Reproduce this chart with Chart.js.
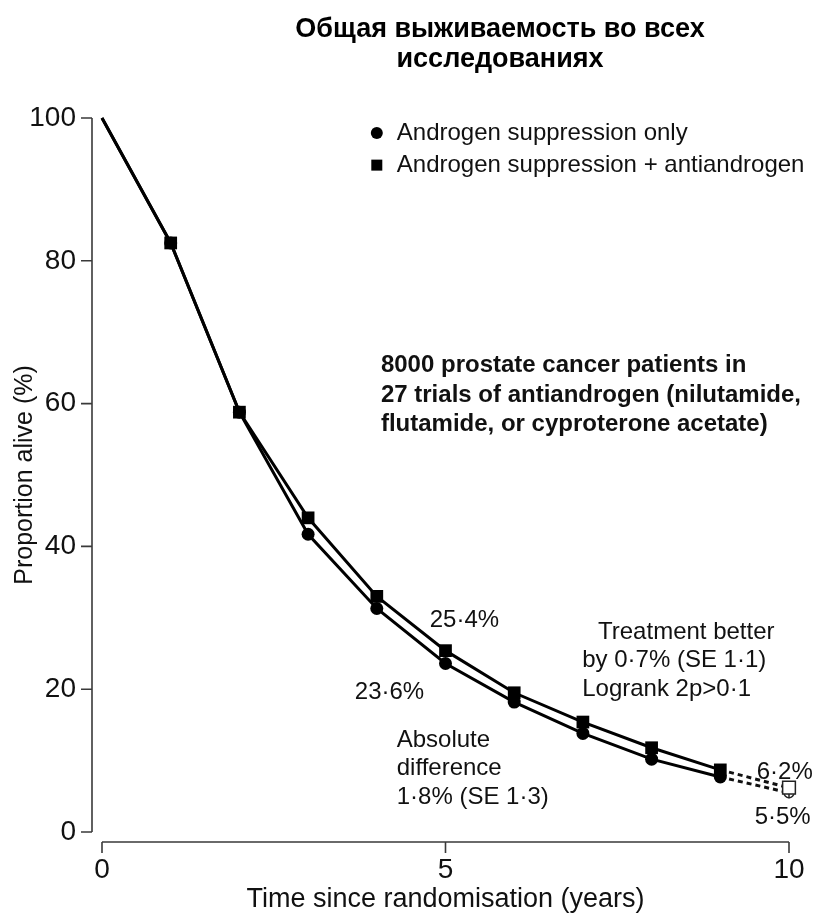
<!DOCTYPE html>
<html><head><meta charset="utf-8">
<script src="https://cdn.jsdelivr.net/npm/chart.js@4.4.1/dist/chart.umd.min.js"></script>
<style>html,body{margin:0;padding:0;background:#fff;}#wrap{width:815px;height:917px;}</style>
</head><body><div id="wrap"><canvas id="c" width="815" height="917"></canvas></div>
<script>
// ---- data ----
const titleLines = ['Общая выживаемость во всех', 'исследованиях'];
const years = [0, 1, 2, 3, 4, 5, 6, 7, 8, 9];
const suppressionOnly = [100, 82.5, 58.8, 41.7, 31.3, 23.6, 18.2, 13.8, 10.2, 7.7];
const suppressionPlusAnti = [100, 82.5, 58.8, 44.0, 33.0, 25.4, 19.5, 15.4, 11.8, 8.7];
const extYears = [9, 10];
const extOnly = [7.7, 5.5];
const extPlus = [8.7, 6.2];
const xTicks = [0, 5, 10];
const yTicks = [0, 20, 40, 60, 80, 100];
const seriesNames = ['Androgen suppression only', 'Androgen suppression + antiandrogen'];
const xTitle = 'Time since randomisation (years)';
const yTitle = 'Proportion alive (%)';
const noteBold = ['8000 prostate cancer patients in', '27 trials of antiandrogen (nilutamide,', 'flutamide, or cyproterone acetate)'];
const noteAbove = ['25·4%'];
const noteBelow = ['23·6%'];
const noteAbsolute = ['Absolute', 'difference', '1·8% (SE 1·3)'];
const noteTreatmentHead = ['Treatment better'];
const noteTreatment = ['by 0·7% (SE 1·1)', 'Logrank 2p>0·1'];
const noteEndPlus = ['6·2%'];
const noteEndOnly = ['5·5%'];

// ---- styles ----
const FONT = "'Liberation Sans', Arial, sans-serif";
const TXT = '#111';
const AXIS = '#3a3a3a';

const toXY = (xs, ys) => xs.map((x, i) => ({x: x, y: ys[i]}));

const titlePlugin = {
  id: 'topTitle',
  afterDraw(chart) {
    const ctx = chart.ctx;
    ctx.save();
    ctx.font = 'bold 27px ' + FONT;
    ctx.fillStyle = '#000';
    ctx.textAlign = 'center';
    ctx.textBaseline = 'middle';
    titleLines.forEach((t, i) => ctx.fillText(t, 500, 30 + i * 30));
    ctx.restore();
  }
};

const axesPlugin = {
  id: 'offsetAxes',
  beforeDatasetsDraw(chart) {
    const {ctx, chartArea: a, scales: {x, y}} = chart;
    ctx.save();
    ctx.strokeStyle = AXIS;
    ctx.lineWidth = 1.6;
    const ax = a.left - 10;
    ctx.beginPath();
    ctx.moveTo(ax, y.getPixelForValue(100));
    ctx.lineTo(ax, y.getPixelForValue(0));
    yTicks.forEach(v => { const py = y.getPixelForValue(v); ctx.moveTo(ax - 11, py); ctx.lineTo(ax, py); });
    const ay = a.bottom + 10;
    ctx.moveTo(x.getPixelForValue(0), ay);
    ctx.lineTo(x.getPixelForValue(10), ay);
    xTicks.forEach(v => { const px = x.getPixelForValue(v); ctx.moveTo(px, ay); ctx.lineTo(px, ay + 11); });
    ctx.stroke();
    ctx.restore();
  }
};

// annotation positions in data units (years, %)
const notes = [
  {lines: noteBold, x: 4.06, y: 65.3, step: 29.5, bold: true, size: 24},
  {lines: noteAbove, x: 4.77, y: 29.7, step: 29, size: 24},
  {lines: noteBelow, x: 3.68, y: 19.5, step: 29, size: 24},
  {lines: noteAbsolute, x: 4.29, y: 12.9, step: 28.5, size: 24},
  {lines: noteTreatmentHead, x: 7.22, y: 28.0, step: 28.5, size: 24},
  {lines: noteTreatment, x: 6.99, y: 24.0, step: 28.5, size: 24},
  {lines: noteEndPlus, x: 9.53, y: 8.4, step: 29, size: 24},
  {lines: noteEndOnly, x: 9.50, y: 2.0, step: 29, size: 24}
];

const notesPlugin = {
  id: 'notes',
  afterDraw(chart) {
    const {ctx, scales: {x, y}} = chart;
    ctx.save();
    ctx.fillStyle = TXT;
    ctx.textAlign = 'left';
    ctx.textBaseline = 'middle';
    notes.forEach(n => {
      ctx.font = (n.bold ? 'bold ' : '') + n.size + 'px ' + FONT;
      const px = x.getPixelForValue(n.x);
      const py = y.getPixelForValue(n.y);
      n.lines.forEach((t, i) => ctx.fillText(t, px, py + i * n.step));
    });
    // legend
    const lx = x.getPixelForValue(4.0);
    const ly1 = y.getPixelForValue(97.9);
    const ly2 = y.getPixelForValue(93.4);
    ctx.fillStyle = '#000';
    ctx.beginPath(); ctx.arc(lx, ly1, 6, 0, Math.PI * 2); ctx.fill();
    ctx.fillRect(lx - 5.5, ly2 - 5.5, 11, 11);
    ctx.fillStyle = TXT;
    ctx.font = '24px ' + FONT;
    ctx.fillText(seriesNames[0], lx + 20, ly1);
    ctx.fillText(seriesNames[1], lx + 20, ly2);
    ctx.restore();
  }
};

const markerRadius = (r) => (c) => c.dataIndex === 0 ? 0 : r;

new Chart(document.getElementById('c'), {
  type: 'line',
  data: {
    datasets: [
      {
        label: seriesNames[0], data: toXY(years, suppressionOnly), order: 2,
        borderColor: '#000', backgroundColor: '#000', borderWidth: 3,
        pointStyle: 'circle', pointRadius: markerRadius(6.5), pointBorderWidth: 0,
        tension: 0, clip: false
      },
      {
        label: seriesNames[1], data: toXY(years, suppressionPlusAnti), order: 1,
        borderColor: '#000', backgroundColor: '#000', borderWidth: 3,
        pointStyle: 'rect', pointRadius: markerRadius(9), pointBorderWidth: 0,
        tension: 0, clip: false
      },
      {
        label: 'ext-only', data: toXY(extYears, extOnly), order: 3,
        borderColor: '#111', borderWidth: 3, borderDash: [5, 4],
        pointRadius: 0, clip: false
      },
      {
        label: 'ext-plus', data: toXY(extYears, extPlus), order: 3,
        borderColor: '#111', borderWidth: 3, borderDash: [5, 4],
        pointRadius: 0, clip: false
      },
      {
        label: 'end-plus', data: [{x: extYears[1], y: extPlus[1]}], order: 0, showLine: false,
        pointStyle: 'rect', pointRadius: 9, backgroundColor: '#fff', borderColor: '#222', pointBorderWidth: 1.5, clip: false
      },
      {
        label: 'end-only', data: [{x: extYears[1], y: extOnly[1]}], order: 0, showLine: false,
        pointStyle: 'circle', pointRadius: 5, backgroundColor: 'rgba(0,0,0,0)', borderColor: '#222', pointBorderWidth: 1.5, clip: false
      },
      {
        label: 'end-cross', data: [{x: extYears[1], y: extPlus[1]}, {x: extYears[1], y: extOnly[1]}], order: 0, showLine: false,
        pointStyle: 'cross', pointRadius: 5.5, borderColor: '#222', pointBorderWidth: 1.5, clip: false
      }
    ]
  },
  options: {
    responsive: false,
    animation: false,
    layout: {padding: {top: 118, left: 0, right: 26, bottom: 0}},
    plugins: {legend: {display: false}, tooltip: {enabled: false}, title: {display: false}},
    scales: {
      x: {
        type: 'linear', min: 0, max: 10,
        afterBuildTicks: s => { s.ticks = xTicks.map(v => ({value: v})); },
        afterFit: s => { s.height = 85; },
        grid: {display: false, drawTicks: true, tickLength: 21},
        border: {display: false},
        ticks: {padding: 0, color: TXT, font: {family: FONT, size: 28}},
        title: {display: true, text: xTitle, color: TXT, font: {family: FONT, size: 27}, padding: {top: 0, bottom: 1}}
      },
      y: {
        type: 'linear', min: 0, max: 100,
        afterBuildTicks: s => { s.ticks = yTicks.map(v => ({value: v})); },
        afterFit: s => { s.width = 102; },
        grid: {display: false, drawTicks: false},
        border: {display: false},
        ticks: {padding: 26, color: TXT, font: {family: FONT, size: 28}},
        title: {display: true, text: yTitle, color: TXT, font: {family: FONT, size: 25}, padding: {top: 10, bottom: 0}}
      }
    }
  },
  plugins: [axesPlugin, notesPlugin, titlePlugin]
});
</script>
</body></html>
